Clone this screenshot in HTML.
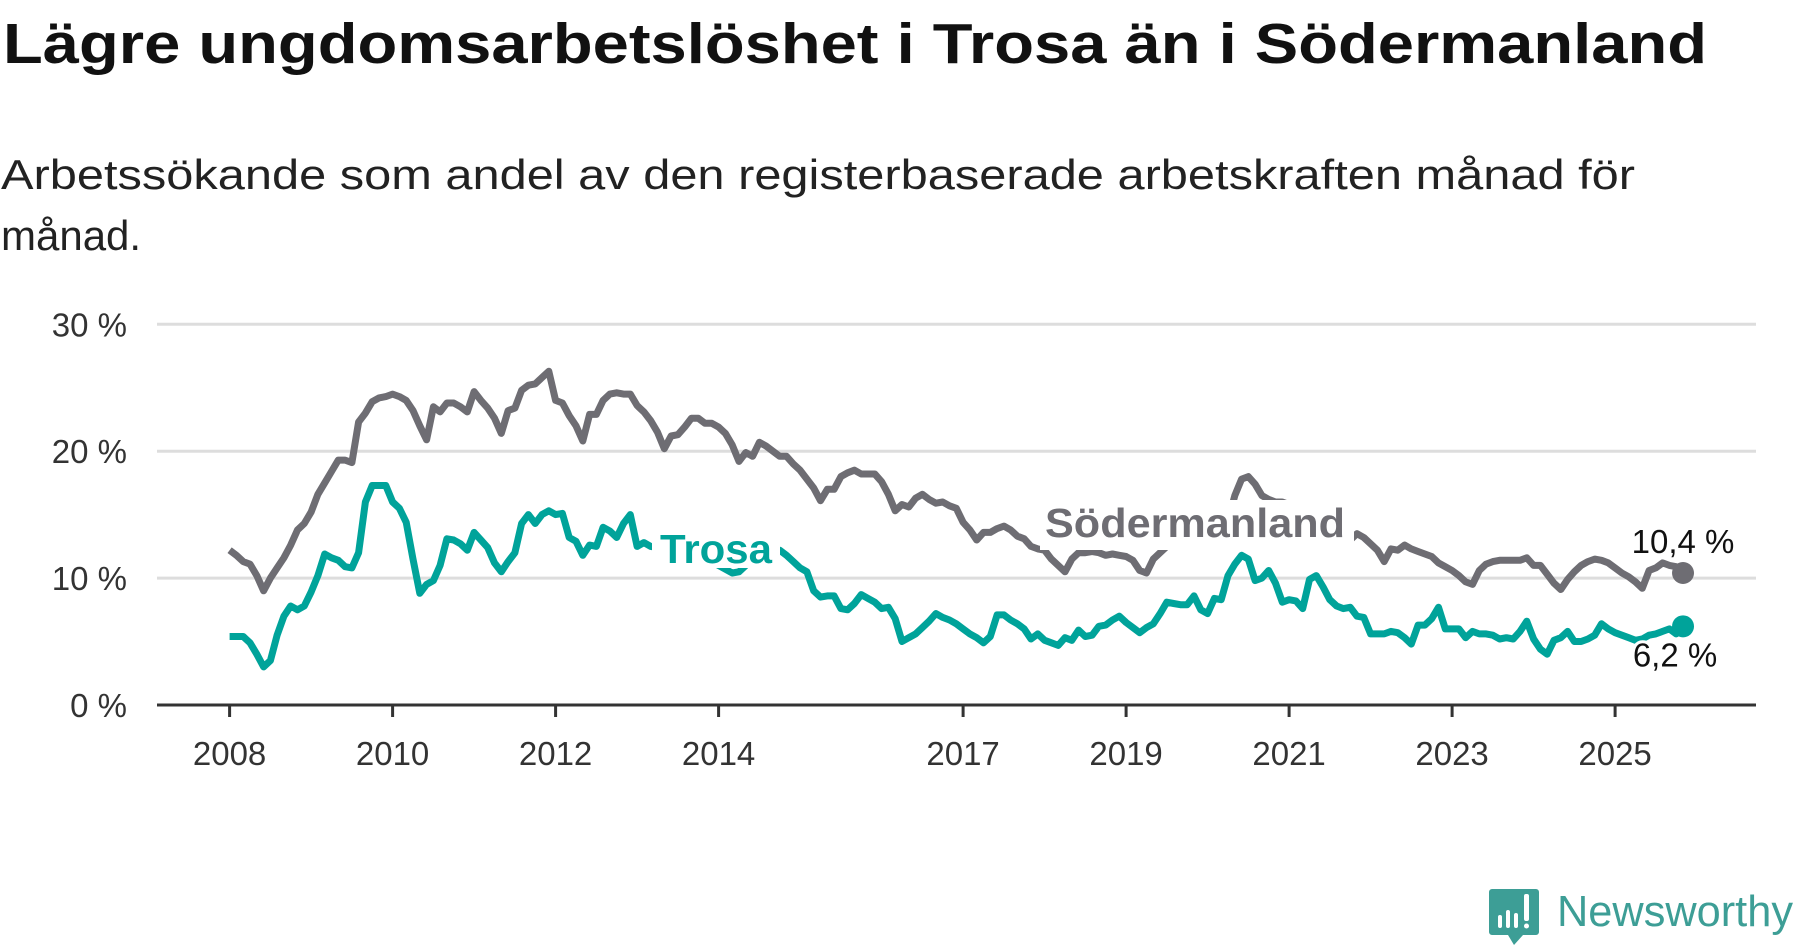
<!DOCTYPE html>
<html><head><meta charset="utf-8"><style>
html,body{margin:0;padding:0;background:#fff;}
svg{display:block;font-family:"Liberation Sans",sans-serif;}
</style></head><body>
<svg id="chart" width="1800" height="948" viewBox="0 0 1800 948">
<text x="3" y="63" font-size="57" font-weight="bold" fill="#111" textLength="1704" lengthAdjust="spacingAndGlyphs">Lägre ungdomsarbetslöshet i Trosa än i Södermanland</text>
<text x="1" y="189" font-size="42" fill="#222" textLength="1634" lengthAdjust="spacingAndGlyphs">Arbetssökande som andel av den registerbaserade arbetskraften månad för</text>
<text x="1" y="250" font-size="42" fill="#222">månad.</text>
<g id="grid"></g>
<g id="yaxis"></g>
<g id="xaxis"></g>
<g id="series"></g>
<g id="labels"></g>
<g>
<path d="M1492 889 h44 a3 3 0 0 1 3 3 v40 a3 3 0 0 1 -3 3 h-13 l-9 10 l-6 -10 h-16 a3 3 0 0 1 -3 -3 v-40 a3 3 0 0 1 3 -3z" fill="#3d9e96"/>
<rect x="1498" y="915" width="4" height="13" rx="2" fill="#fff"/>
<rect x="1506" y="910" width="4" height="18" rx="2" fill="#fff"/>
<rect x="1514" y="913" width="4" height="15" rx="2" fill="#fff"/>
<rect x="1524" y="894" width="5" height="27" rx="2" fill="#fff"/>
<circle cx="1526.5" cy="926" r="2.5" fill="#fff"/>
<text x="1557" y="926" font-size="44" fill="#3d9e96" textLength="236" lengthAdjust="spacingAndGlyphs">Newsworthy</text>
</g>
</svg>
<script>
const yTicks = [0, 10, 20, 30];
const yTickLabels = ["0 %", "10 %", "20 %", "30 %"];
const xTicks = [2008, 2010, 2012, 2014, 2017, 2019, 2021, 2023, 2025];
const startYear = 2008;
const sodermanland = [
12.2,11.8,11.3,11.1,10.2,9.0,10.0,10.8,11.6,12.6,13.8,14.3,
15.2,16.6,17.5,18.4,19.3,19.3,19.1,22.3,23.0,23.9,24.2,24.3,
24.5,24.3,24.0,23.2,22.0,20.9,23.5,23.1,23.8,23.8,23.5,23.1,
24.7,24.0,23.4,22.6,21.4,23.2,23.4,24.8,25.2,25.3,25.8,26.3,
24.0,23.8,22.8,22.0,20.8,22.9,22.9,24.0,24.5,24.6,24.5,24.5,
23.6,23.1,22.4,21.5,20.2,21.2,21.3,21.9,22.6,22.6,22.2,22.2,
21.9,21.4,20.5,19.2,19.9,19.6,20.7,20.4,20.0,19.6,19.6,19.0,
18.5,17.8,17.1,16.1,17.0,17.0,18.0,18.3,18.5,18.2,18.2,18.2,
17.6,16.6,15.3,15.8,15.6,16.3,16.6,16.2,15.9,16.0,15.7,15.5,
14.4,13.8,13.0,13.6,13.6,13.9,14.1,13.8,13.3,13.1,12.5,12.3,
12.2,11.5,11.0,10.5,11.5,12.0,12.0,12.1,12.0,11.8,11.9,11.8,
11.7,11.4,10.6,10.4,11.5,12.0,12.5,12.8,13.2,13.4,13.5,13.6,
13.6,13.8,14.0,14.5,16.5,17.8,18.0,17.4,16.5,16.2,16.0,16.0,
15.8,15.5,15.2,14.9,14.6,14.3,14.0,13.8,13.4,13.0,13.5,13.2,
12.7,12.2,11.3,12.3,12.2,12.6,12.3,12.1,11.9,11.7,11.2,10.9,
10.6,10.2,9.7,9.5,10.6,11.1,11.3,11.4,11.4,11.4,11.4,11.6,
11.0,11.0,10.3,9.6,9.1,9.9,10.5,11.0,11.3,11.5,11.4,11.2,
10.8,10.4,10.1,9.7,9.2,10.6,10.8,11.2,11.0,10.9,10.4];
const trosa = [
5.4,5.4,5.4,4.9,4.0,3.0,3.5,5.5,7.0,7.8,7.5,7.8,
8.9,10.2,11.9,11.6,11.4,10.9,10.8,12.0,16.0,17.3,17.3,17.3,
16.0,15.5,14.4,11.5,8.8,9.5,9.8,11.0,13.1,13.0,12.7,12.2,
13.6,13.0,12.4,11.2,10.5,11.3,12.0,14.3,15.0,14.3,15.0,15.3,
15.0,15.1,13.2,12.9,11.8,12.6,12.5,14.0,13.7,13.2,14.3,15.0,
12.5,12.8,12.5,12.4,12.3,12.2,12.1,12.0,11.8,11.6,11.4,11.2,
11.0,10.7,10.4,10.5,11.0,12.0,13.1,12.9,12.2,12.2,11.8,11.3,
10.8,10.5,9.0,8.5,8.6,8.6,7.6,7.5,8.0,8.7,8.4,8.1,
7.6,7.7,6.8,5.0,5.3,5.6,6.1,6.6,7.2,6.9,6.7,6.4,
6.0,5.6,5.3,4.9,5.4,7.1,7.1,6.7,6.4,6.0,5.2,5.6,
5.1,4.9,4.7,5.3,5.1,5.9,5.4,5.5,6.2,6.3,6.7,7.0,
6.5,6.1,5.7,6.1,6.4,7.2,8.1,8.0,7.9,7.9,8.6,7.5,
7.2,8.4,8.3,10.2,11.1,11.8,11.5,9.8,10.0,10.6,9.6,8.1,
8.3,8.2,7.6,9.9,10.2,9.3,8.3,7.8,7.6,7.7,7.0,6.9,
5.6,5.6,5.6,5.8,5.7,5.3,4.8,6.3,6.3,6.8,7.7,6.0,
6.0,6.0,5.3,5.8,5.6,5.6,5.5,5.2,5.3,5.2,5.8,6.6,
5.2,4.4,4.0,5.1,5.3,5.8,5.0,5.0,5.2,5.5,6.4,6.0,
5.7,5.5,5.3,5.1,5.2,5.5,5.6,5.8,6.0,5.6,6.2];
const NS="http://www.w3.org/2000/svg";
const X0=157, X1=1756;
function xScale(t){return 229.6+(t-startYear)*81.5;}
function yScale(v){return 705-v*12.69;}
function mk(tag,attrs,parent){const e=document.createElementNS(NS,tag);for(const k in attrs)e.setAttribute(k,attrs[k]);parent.appendChild(e);return e;}
const grid=document.getElementById('grid'), ya=document.getElementById('yaxis'), xa=document.getElementById('xaxis'), ser=document.getElementById('series'), lab=document.getElementById('labels');
yTicks.forEach((v,i)=>{
  if(v>0){const l=mk('line',{x1:X0,x2:X1,y1:yScale(v),y2:yScale(v),stroke:'#dddddd','stroke-width':3},grid);
  
  }
  const t=mk('text',{x:127,y:yScale(v)+12,'text-anchor':'end','font-size':33,fill:'#333'},ya);
  t.textContent=yTickLabels[i];
  
  
});
const base=mk('line',{x1:X0,x2:X1,y1:yScale(0),y2:yScale(0),stroke:'#333','stroke-width':3},xa);


xTicks.forEach(yr=>{
  const x=xScale(yr);
  const tk=mk('line',{x1:x,x2:x,y1:yScale(0),y2:yScale(0)+12,stroke:'#333','stroke-width':3},xa);
  
  
  const t=mk('text',{x:x,y:765,'text-anchor':'middle','font-size':33,fill:'#333'},xa);
  t.textContent=yr;
  
  
});
function drawLine(arr,color,name){
  const d=arr.map((v,i)=>(i?'L':'M')+xScale(startYear+i/12).toFixed(1)+' '+yScale(v).toFixed(1)).join(' ');
  const p=mk('path',{d:d,fill:'none',stroke:color,'stroke-width':7,'stroke-linejoin':'round'},ser);
  
  
  const n=arr.length-1;
  const c=mk('circle',{cx:xScale(startYear+n/12),cy:yScale(arr[n]),r:11,fill:color},ser);
  
  
  return {x:xScale(startYear+n/12),y:yScale(arr[n]),v:arr[n]};
}
const gEnd=drawLine(sodermanland,'#6e6d73','sodermanland');
const tEnd=drawLine(trosa,'#00a39a','trosa');
function fmt(v){return v.toFixed(1).replace('.',',')+' %';}
const l1=mk('text',{x:gEnd.x,y:gEnd.y-20,'text-anchor':'middle','font-size':33,fill:'#111'},lab);
l1.textContent=fmt(gEnd.v);


const l2=mk('text',{x:tEnd.x-8,y:tEnd.y+40,'text-anchor':'middle','font-size':33,fill:'#111',stroke:'#fff','stroke-width':6,'paint-order':'stroke'},lab);
l2.textContent=fmt(tEnd.v);


const sb=mk('rect',{x:1040,y:500,width:314,height:50,fill:'#fff'},lab);


const s=mk('text',{x:1045,y:537,'font-size':41,'font-weight':'bold',fill:'#6e6d73',textLength:300,lengthAdjust:'spacingAndGlyphs'},lab);
s.textContent='Södermanland';


const tb=mk('rect',{x:652,y:524,width:128,height:44,fill:'#fff'},lab);


const tr=mk('text',{x:660,y:563,'font-size':41,'font-weight':'bold',fill:'#00a39a',textLength:112,lengthAdjust:'spacingAndGlyphs'},lab);
tr.textContent='Trosa';


</script>
</body></html>
